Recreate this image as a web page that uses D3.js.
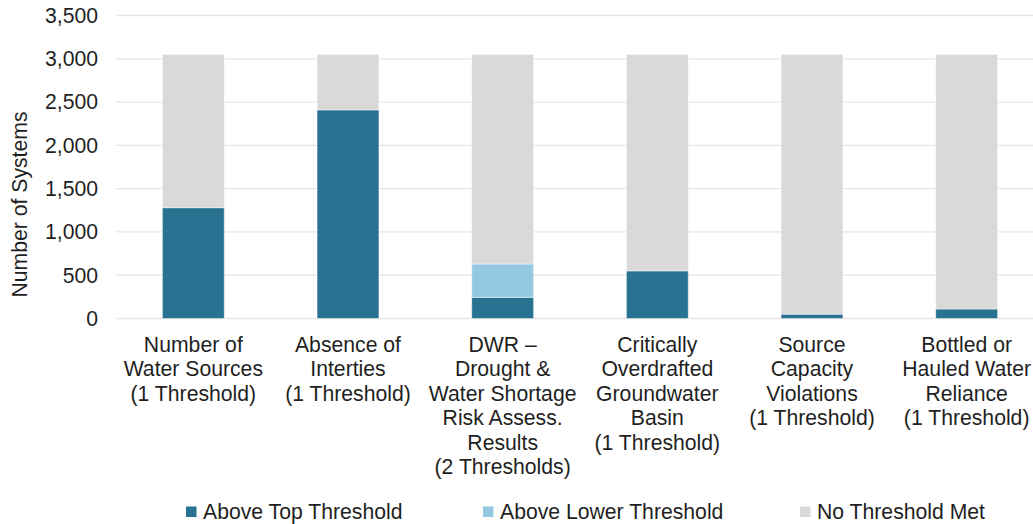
<!DOCTYPE html>
<meta charset="utf-8">
<style>
  body { margin: 0; background: #fff; }
  text { font-family: "Liberation Sans", Arial, sans-serif; fill: #1f1f1f; }
</style>
<body>
<script src="https://d3js.org/d3.v7.min.js"></script>
<div id="chart"></div>
<script>
var categories = [
  ["Number of", "Water Sources", "(1 Threshold)"],
  ["Absence of", "Interties", "(1 Threshold)"],
  ["DWR \u2013", "Drought &", "Water Shortage", "Risk Assess.", "Results", "(2 Thresholds)"],
  ["Critically", "Overdrafted", "Groundwater", "Basin", "(1 Threshold)"],
  ["Source", "Capacity", "Violations", "(1 Threshold)"],
  ["Bottled or", "Hauled Water", "Reliance", "(1 Threshold)"]
];
var aboveTop = [1280, 2410, 245, 550, 50, 110];
var aboveLower = [0, 0, 385, 0, 0, 0];
var noThreshold = [1770, 640, 2420, 2500, 3000, 2940];
var seriesNames = ["Above Top Threshold", "Above Lower Threshold", "No Threshold Met"];
var seriesColors = ["#2a7292", "#95c8e1", "#d9d9d9"];
var yTicks = [0, 500, 1000, 1500, 2000, 2500, 3000, 3500];

var width = 1033,
    height = 524,
    fontSize = "21.2px";

var svg = d3.select("#chart").append("svg")
    .attr("width", width)
    .attr("height", height);

var keys = categories.map(function(d, i) { return "c" + i; });
var rows = keys.map(function(k, i) {
  return { key: k, top: aboveTop[i], lower: aboveLower[i], none: noThreshold[i] };
});

var x = d3.scaleBand()
    .domain(keys)
    .range([116, 1044])
    .paddingInner(0.6)
    .paddingOuter(0.3);

var y = d3.scaleLinear()
    .domain([0, 3500])
    .range([318.5, 15.5]);

// gridlines
svg.append("g")
  .selectAll("line")
  .data(yTicks)
  .enter().append("line")
    .attr("x1", 116)
    .attr("x2", width)
    .attr("y1", function(d) { return y(d); })
    .attr("y2", function(d) { return y(d); })
    .attr("stroke", "#e6e6e6")
    .attr("stroke-width", 1.3);

// y axis labels
var yAxis = d3.axisLeft(y)
    .tickValues(yTicks)
    .tickFormat(d3.format(","))
    .tickSize(0)
    .tickPadding(0);

var yg = svg.append("g")
    .attr("transform", "translate(98,0)")
    .call(yAxis);
yg.select(".domain").remove();
yg.selectAll("text")
    .style("font-size", fontSize)
    .attr("fill", "#1f1f1f")
    .attr("font-family", "Liberation Sans, Arial, sans-serif");

svg.append("text")
    .attr("transform", "translate(27,204.5)rotate(-90)")
    .attr("text-anchor", "middle")
    .style("font-size", fontSize)
    .text("Number of Systems");

// stacked bars
var stack = d3.stack().keys(["top", "lower", "none"]);
var layers = stack(rows);

svg.append("g")
  .selectAll("g")
  .data(layers)
  .enter().append("g")
    .attr("fill", function(d, i) { return seriesColors[i]; })
  .selectAll("rect")
  .data(function(d) { return d; })
  .enter().append("rect")
    .attr("x", function(d) { return x(d.data.key); })
    .attr("y", function(d) { return y(d[1]); })
    .attr("width", x.bandwidth())
    .attr("height", function(d) { return y(d[0]) - y(d[1]); })
    .attr("stroke", "rgba(255,255,255,0.45)")
    .attr("stroke-width", 1);

// category labels
var xl = svg.append("g")
  .selectAll("text")
  .data(categories)
  .enter().append("text")
    .attr("text-anchor", "middle")
    .attr("x", function(d, i) { return x(keys[i]) + x.bandwidth() / 2; })
    .attr("y", 351.5)
    .style("font-size", fontSize);

xl.selectAll("tspan")
  .data(function(d) { return d; })
  .enter().append("tspan")
    .attr("x", function() { return d3.select(this.parentNode).attr("x"); })
    .attr("dy", function(d, i) { return i === 0 ? 0 : 24.5; })
    .text(function(d) { return d; });

// legend
var legendX = [186, 483, 800];
var legend = svg.append("g")
  .selectAll("g")
  .data(seriesNames)
  .enter().append("g")
    .attr("transform", function(d, i) { return "translate(" + legendX[i] + ",0)"; });

legend.append("rect")
    .attr("x", 0)
    .attr("y", 506.5)
    .attr("width", 10.5)
    .attr("height", 10.5)
    .attr("fill", function(d, i) { return seriesColors[i]; });

legend.append("text")
    .attr("x", 17)
    .attr("y", 519)
    .style("font-size", fontSize)
    .text(function(d) { return d; });
</script>
</body>
</html>
